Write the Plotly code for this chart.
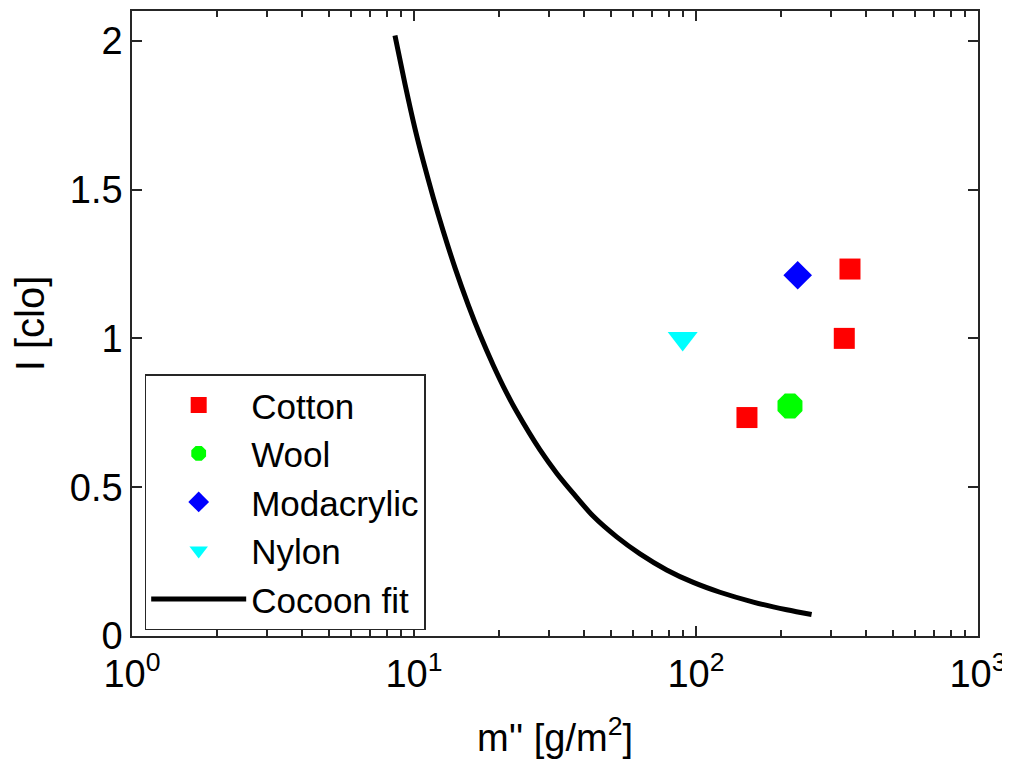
import plotly.graph_objects as go

# Data
cotton_m = [151.6, 335.6, 351.6]
cotton_I = [0.734, 1.0, 1.233]
wool_m = [215.4]
wool_I = [0.773]
modacrylic_m = [229.4]
modacrylic_I = [1.212]
nylon_m = [89.7]
nylon_I = [1.0]

fit_m = [8.56, 9.29, 10.08, 10.79, 11.71, 12.70, 13.98, 15.58, 17.14, 19.10,
         21.32, 23.12, 27.98, 32.06, 36.72, 43.25, 52.34, 63.3, 78.7, 97.8,
         121.6, 159.7, 209.7, 257.0]
fit_I = [2.018, 1.855, 1.705, 1.595, 1.472, 1.360, 1.237, 1.112, 1.012, 0.910,
         0.816, 0.754, 0.625, 0.547, 0.479, 0.402, 0.333, 0.276, 0.222, 0.180,
         0.147, 0.114, 0.088, 0.072]

x_tickvals = [1, 10, 100, 1000]
x_ticktext = ["10<sup>0</sup>", "10<sup>1</sup>", "10<sup>2</sup>", "10<sup>3</sup>"]
x_minor = [k * d for d in (1, 10, 100) for k in range(2, 10)]
y_tickvals = [0, 0.5, 1, 1.5, 2]
y_ticktext = ["0", "0.5", "1", "1.5", "2"]

FONT = "Liberation Sans, Arial, Helvetica, sans-serif"
AX = "#262626"

fig = go.Figure()
fig.add_trace(go.Scatter(x=cotton_m, y=cotton_I, mode="markers", name="Cotton",
                         marker=dict(symbol="square", size=21, color="#FF0000")))
fig.add_trace(go.Scatter(x=wool_m, y=wool_I, mode="markers", name="Wool",
                         marker=dict(symbol="octagon", size=27, color="#00FF00")))
fig.add_trace(go.Scatter(x=modacrylic_m, y=modacrylic_I, mode="markers", name="Modacrylic",
                         marker=dict(symbol="diamond", size=22, color="#0000FF")))
fig.add_trace(go.Scatter(x=nylon_m, y=nylon_I, mode="markers", name="Nylon",
                         marker=dict(symbol="triangle-down", size=26, color="#00FFFF")))
fig.add_trace(go.Scatter(x=fit_m, y=fit_I, mode="lines", name="Cocoon fit",
                         line=dict(color="black", width=5, shape="spline", smoothing=0.8)))

fig.update_layout(
    width=1010, height=765,
    margin=dict(l=124, r=40, t=3, b=137, autoexpand=False),
    paper_bgcolor="white", plot_bgcolor="white",
    font=dict(family=FONT, size=38, color="black"),
    showlegend=True,
    legend=dict(x=0.015, y=0.419, xanchor="left", yanchor="top",
                bgcolor="white", bordercolor=AX, borderwidth=1.5,
                font=dict(family=FONT, size=35, color="black"),
                itemwidth=95, itemsizing="trace", tracegroupgap=0),
)
fig.update_xaxes(
    type="log", range=[0, 3], automargin=False,
    tickmode="array", tickvals=x_tickvals, ticktext=x_ticktext,
    ticks="inside", ticklen=10, tickwidth=1.5, tickcolor=AX,
    minor=dict(tickmode="array", tickvals=x_minor, ticks="inside", ticklen=6,
               tickwidth=1.5, tickcolor=AX, showgrid=False),
    showline=True, linecolor=AX, linewidth=1.5, mirror="ticks",
    showgrid=False, zeroline=False, ticklabelstandoff=4,
    tickfont=dict(family=FONT, size=38),
    title=dict(text="m'' [g/m<sup>2</sup>]", font=dict(family=FONT, size=38), standoff=30),
)
fig.update_yaxes(
    range=[0, 2.1], automargin=False,
    tickmode="array", tickvals=y_tickvals, ticktext=y_ticktext,
    ticks="inside", ticklen=10, tickwidth=1.5, tickcolor=AX,
    showline=True, linecolor=AX, linewidth=1.5, mirror="ticks",
    showgrid=False, zeroline=False,
    tickfont=dict(family=FONT, size=38),
    title=dict(text="I [clo]", font=dict(family=FONT, size=40), standoff=22),
)

fig.write_html("out.html")
